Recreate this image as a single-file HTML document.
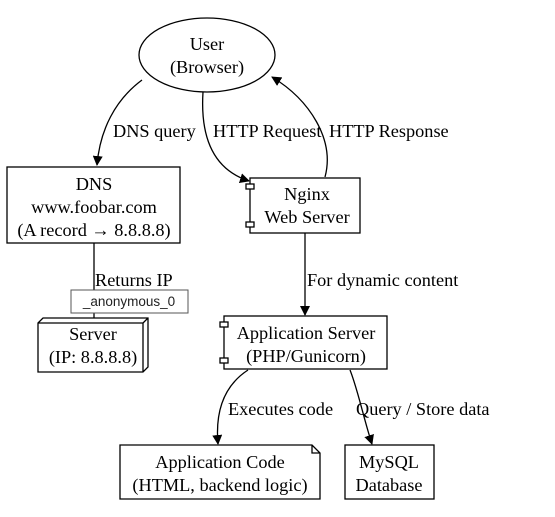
<!DOCTYPE html>
<html><head><meta charset="utf-8"><style>
body{margin:0;background:#fff;width:555px;height:512px;overflow:hidden}
text{font-family:"Liberation Serif",serif;font-size:18.3px;fill:#000}
</style></head><body>
<svg width="555" height="512" viewBox="0 0 555 512">
<defs><marker id="a" markerWidth="10" markerHeight="10" refX="9" refY="5" orient="auto" markerUnits="userSpaceOnUse"><path d="M0,0 L10,5 L0,10 z" fill="#000"/></marker></defs>
<g fill="none" stroke="#000" stroke-width="1.3">
<ellipse cx="207" cy="55" rx="68" ry="37" fill="#fff"/>
<rect x="7" y="167" width="173" height="76"/>
<rect x="250" y="178" width="110" height="55"/>
<rect x="246" y="184" width="8" height="5" fill="#fff"/><rect x="246" y="222" width="8" height="5" fill="#fff"/>
<rect x="224" y="316" width="163" height="53"/>
<rect x="220" y="322" width="8" height="5" fill="#fff"/><rect x="220" y="358" width="8" height="5" fill="#fff"/>
<path d="M38,323 L43,318 L148,318 L148,367 L143,372 L38,372 Z M38,323 L143,323 L143,372 M143,323 L148,318"/>
<path d="M120,445 L312,445 L320,453 L320,499 L120,499 Z M312,445 L312,453 L320,453"/>
<rect x="345" y="445" width="89" height="54"/>
<path d="M142,80 C115,100 100,130 97,165" marker-end="url(#a)"/>
<path d="M203,92 C200,140 215,170 249,181" marker-end="url(#a)"/>
<path d="M325,177 C335,140 310,100 272,77" marker-end="url(#a)"/>
<path d="M94,243 L94,318"/>
<path d="M305,233 L305,315" marker-end="url(#a)"/>
<path d="M248,370 C225,385 215,410 218,444" marker-end="url(#a)"/>
<path d="M350,370 C358,390 364,420 372,444" marker-end="url(#a)"/>
</g>
<g text-anchor="middle">
<text x="207" y="50">User</text><text x="207" y="73">(Browser)</text>
<text x="94" y="190">DNS</text><text x="94" y="213">www.foobar.com</text><text x="94" y="236">(A record → 8.8.8.8)</text>
<text x="307" y="200">Nginx</text><text x="307" y="223">Web Server</text>
<text x="306" y="339">Application Server</text><text x="306" y="362">(PHP/Gunicorn)</text>
<text x="93" y="340">Server</text><text x="93" y="363">(IP: 8.8.8.8)</text>
<text x="220" y="468">Application Code</text><text x="220" y="491">(HTML, backend logic)</text>
<text x="389" y="468">MySQL</text><text x="389" y="491">Database</text>
</g>
<text x="113" y="137">DNS query</text>
<text x="213" y="137">HTTP Request</text>
<text x="329" y="137">HTTP Response</text>
<text x="95" y="286">Returns IP</text>
<text x="307" y="286">For dynamic content</text>
<text x="228" y="415">Executes code</text>
<text x="356" y="415">Query / Store data</text>
<rect x="71" y="290" width="117" height="23" fill="#fff" stroke="#555" stroke-width="1"/>
<text x="129" y="306" text-anchor="middle" style="font-family:'Liberation Sans',sans-serif;font-size:13.5px;fill:#222">_anonymous_0</text>
</svg>
</body></html>
